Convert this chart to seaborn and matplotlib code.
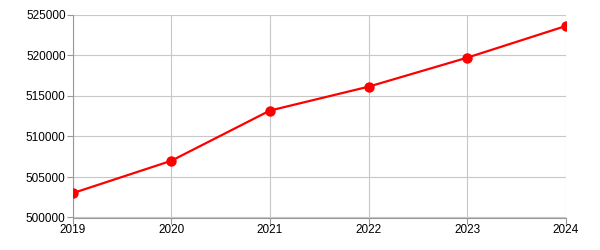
import matplotlib
matplotlib.use("Agg")
import matplotlib.pyplot as plt
import seaborn as sns
import pandas as pd

years = [2019, 2020, 2021, 2022, 2023, 2024]
values = [503000, 507000, 513200, 516150, 519730, 523640]
yticks = [500000, 505000, 510000, 515000, 520000, 525000]

sns.set_theme(style="white")
plt.rcParams['font.family'] = ['Liberation Sans', 'DejaVu Sans']

df = pd.DataFrame({"year": years, "value": values})

fig = plt.figure(figsize=(6, 2.5), dpi=100)
ax = fig.add_axes([0.121, 0.13, 0.822, 0.81])
sns.lineplot(data=df, x="year", y="value", ax=ax, color="#ff0000", linewidth=1.6,
             marker="o", markersize=7.5, markeredgewidth=0, zorder=3)

ax.set_xlim(2019, 2024)
ax.set_ylim(500000, 525000)
ax.set_xticks(years)
ax.set_xticklabels([str(y) for y in years])
ax.set_yticks(yticks)
ax.set_yticklabels([str(v) for v in yticks])
ax.set_xlabel("")
ax.set_ylabel("")
ax.grid(True, color="#c8c8c8", linewidth=0.8)
ax.set_axisbelow(True)
for s in ["top", "right"]:
    ax.spines[s].set_visible(False)
for s in ["left", "bottom"]:
    ax.spines[s].set_color("#999999")
    ax.spines[s].set_linewidth(0.8)
ax.tick_params(axis="both", which="major", length=4, width=0.8, color="#999999",
               labelsize=8.5, labelcolor="black", pad=1, direction="out",
               left=True, bottom=True)

fig.savefig("out.png", dpi=100)
